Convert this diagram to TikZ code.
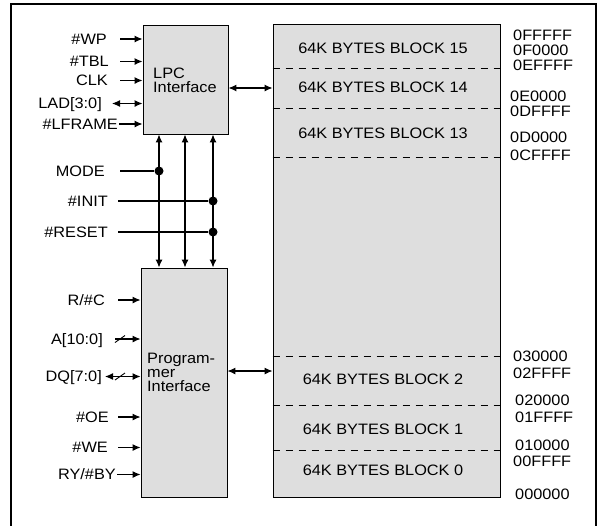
\documentclass[tikz,border=0pt]{standalone}
\usepackage{fontspec}
\setmainfont{Liberation Sans}[FakeStretch=1.08]
\usetikzlibrary{arrows.meta,positioning}
\definecolor{blockgray}{HTML}{DEDEDE}
\tikzset{
  box/.style={draw=black, line width=0.9pt, fill=blockgray, inner sep=0pt},
  lbl/.style={inner sep=0pt, text height=10.8pt, text depth=0pt},
  boxtext/.style={inner sep=0pt, align=left, anchor=west},
  arrow/.style={-{Latex[length=8pt,width=7pt]}, line width=1.1pt},
  dblarrow/.style={{Latex[length=8pt,width=7pt]}-{Latex[length=8pt,width=7pt]}, line width=1.1pt},
  wire/.style={line width=1.1pt},
  slashmark/.style={line width=0.9pt},
  junction/.style={circle, fill=black, inner sep=0pt, minimum size=9pt},
  blockline/.style={dash pattern=on 7pt off 6pt, line width=0.8pt},
  outerframe/.style={line width=1.8pt}
}

\begin{document}
\begin{tikzpicture}[x=1pt, y=-1pt, font=\fontsize{15.1}{14}\selectfont]
  \useasboundingbox (0,0) rectangle (597,525);
  \draw[outerframe] (11,530) -- (11,4) -- (596,4) -- (596,530);

  % the three blocks
  \node[box, minimum width=85pt, minimum height=109pt] (lpc) at (185.5,79.5) {};
  \node[box, minimum width=86pt, minimum height=229pt] (prog) at (184,382.5) {};
  \node[box, minimum width=227pt, minimum height=473pt] (mem) at (386.5,260.5) {};
  \node[boxtext] (lpctxt) at (153,80.6) {LPC\\Interface};
  \node[boxtext] (progtxt) at (147,372.6) {Program-\\mer\\Interface};

  % LPC side pins
  \foreach \nm/\txt/\xe/\y/\gap in {wp/\#WP/107/39/13, tbl/\#TBL/109/61.5/11, clk/CLK/108/80.5/12, lframe/\#LFRAME/118/124/1}
  {
    \node[lbl, anchor=east] (\nm) at (\xe,\y) {\txt};
    \draw[arrow] ([xshift=\gap pt]\nm.east) -- (\nm -| lpc.west);
  }
  \node[lbl, anchor=east] (lad) at (102,103.5) {LAD[3:0]};
  \draw[dblarrow] ([xshift=10pt]lad.east) -- (lad -| lpc.west);

  % programmer side pins
  \foreach \nm/\txt/\xe/\y/\gap in {rc/{R/\#C}/105/300/13, oe/\#OE/109/417/9, we/\#WE/108/447.5/10, ry/{RY/\#BY}/116/474.5/1}
  {
    \node[lbl, anchor=east] (\nm) at (\xe,\y) {\txt};
    \draw[arrow] ([xshift=\gap pt]\nm.east) -- (\nm -| prog.west);
  }
  \node[lbl, anchor=east] (addr) at (103,339) {A[10:0]};
  \draw[arrow] ([xshift=12pt]addr.east) -- (addr -| prog.west);
  \coordinate (aslash) at ([xshift=17pt]addr.east);
  \draw[slashmark] ([shift={(-5pt,-3.5pt)}]aslash) -- ([shift={(5pt,3.5pt)}]aslash);
  \node[lbl, anchor=east] (dq) at (102,376.5) {DQ[7:0]};
  \draw[dblarrow] ([xshift=3pt]dq.east) -- (dq -| prog.west);
  \coordinate (dqslash) at ([xshift=18pt]dq.east);
  \draw[slashmark] ([shift={(-5pt,-3.5pt)}]dqslash) -- ([shift={(5pt,3.5pt)}]dqslash);

  % shared lines between the interfaces
  \foreach \bx [count=\i] in {159,185,213}
  {
    \coordinate (bus\i) at (\bx,200);
    \draw[dblarrow] (bus\i |- lpc.south) -- (bus\i |- prog.north);
  }
  \node[lbl, anchor=east] (mode) at (105,171) {MODE};
  \node[lbl, anchor=east] (init) at (108,201) {\#INIT};
  \node[lbl, anchor=east] (reset) at (108,232) {\#RESET};
  \node[junction] (modedot) at (bus1 |- mode) {};
  \node[junction] (initdot) at (bus3 |- init) {};
  \node[junction] (resetdot) at (bus3 |- reset) {};
  \draw[wire] ([xshift=15pt]mode.east) -- (modedot);
  \draw[wire] ([xshift=10pt]init.east) -- (initdot);
  \draw[wire] ([xshift=10pt]reset.east) -- (resetdot);

  % links to the memory array
  \draw[dblarrow] ([yshift=-8.5pt]lpc.east) -- ([yshift=-8.5pt]lpc.east -| mem.west);
  \draw[dblarrow] ([yshift=11.5pt]prog.east) -- ([yshift=11.5pt]prog.east -| mem.west);

  % memory blocks
  \foreach \dy in {68,108,157,356,405,450}
    \draw[blockline] (mem.west |- 0,\dy) -- (mem.east |- 0,\dy);
  \foreach \nm/\txt/\by in {b15/15/48, b14/14/87, b13/13/133, b2/2/379, b1/1/429, b0/0/470}
    \node[lbl] (\nm) at (383,\by) {64K BYTES BLOCK \txt};

  % addresses
  \foreach \nm/\ax/\ay in {0FFFFF/513/35, 0F0000/513/50, 0EFFFF/513/65, 0E0000/510/96.5, 0DFFFF/510/111, 0D0000/510/137, 0CFFFF/510/155, 030000/513/356, 02FFFF/513/373, 020000/515/400, 01FFFF/515/417, 010000/515/445, 00FFFF/513/461, 000000/515/494}
    \node[lbl, anchor=west] (a\nm) at (\ax,\ay) {\nm};
\end{tikzpicture}
\end{document}
